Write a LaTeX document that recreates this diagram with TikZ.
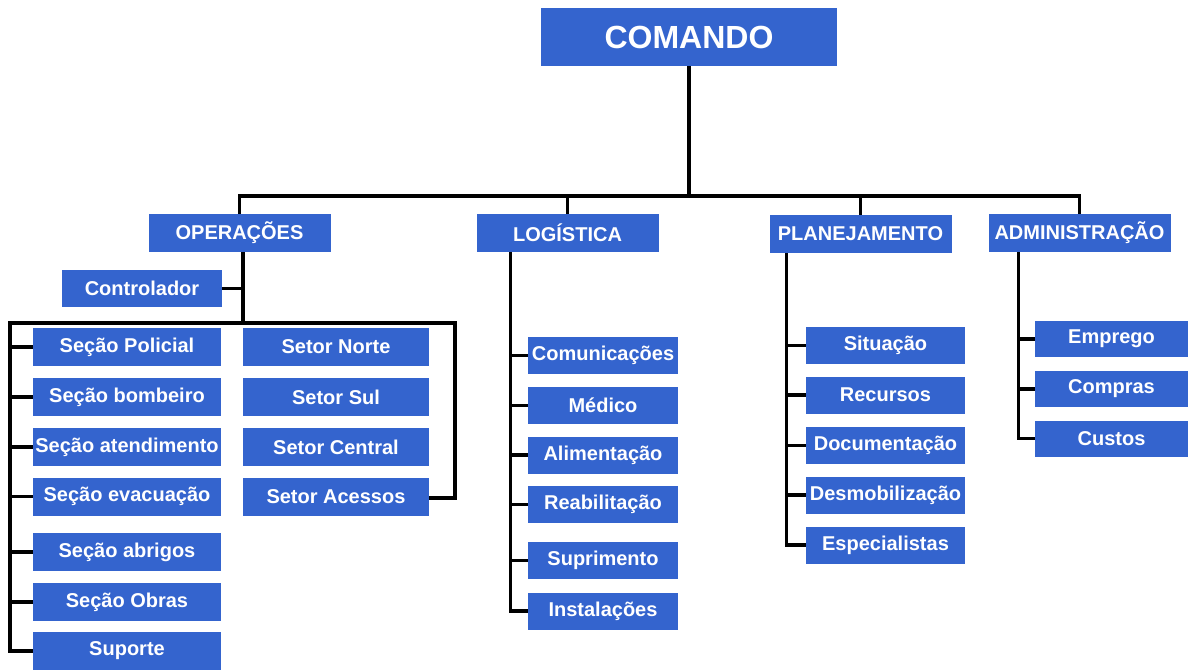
\documentclass[tikz,border=0pt]{standalone}
\usepackage{fontspec}
\setmainfont{Liberation Sans}
\usepackage{tikz}
\usetikzlibrary{positioning,calc}
\usepackage{xcolor}
\definecolor{BoxBlue}{RGB}{52,100,206}

\begin{document}
\begin{tikzpicture}[
    x=1pt, y=-1pt,
    unit/.style={fill=BoxBlue, text=white, inner sep=0pt, minimum height=38pt,
        font=\fontsize{20}{22}\selectfont\bfseries},
    chief/.style={unit, minimum width=296pt, minimum height=58pt,
        font=\fontsize{32}{35}\selectfont\bfseries},
    branch/.style={unit, minimum width=182pt},
    link/.style={draw, black, line width=3.2pt},
]
\useasboundingbox (0,0) rectangle (1188,669);

\node[chief] (cmd) at (689,37) {COMANDO};

\node[branch] (ops)  at (239.5,233) {OPERAÇÕES};
\node[branch] (log)  at (567.5,233) {LOGÍSTICA};
\node[branch] (plan) at (860.5,234) {PLANEJAMENTO};
\node[branch] (adm)  at (1079.5,233) {ADMINISTRAÇÃO};

\node[unit, minimum width=160pt, minimum height=37pt] (ctrl) at (142,288.5) {Controlador};

\node[unit, minimum width=188pt] (s1) at (127,347) {Seção Policial};
\node[unit, minimum width=188pt] (s2) at (127,397) {Seção bombeiro};
\node[unit, minimum width=188pt] (s3) at (127,447) {Seção atendimento};
\node[unit, minimum width=188pt] (s4) at (127,496.5) {Seção evacuação};
\node[unit, minimum width=188pt] (s5) at (127,552) {Seção abrigos};
\node[unit, minimum width=188pt] (s6) at (127,602) {Seção Obras};
\node[unit, minimum width=188pt] (s7) at (127,651) {Suporte};

\node[unit, minimum width=186pt] (t1) at (336,347) {Setor Norte};
\node[unit, minimum width=186pt] (t2) at (336,397) {Setor Sul};
\node[unit, minimum width=186pt] (t3) at (336,447) {Setor Central};
\node[unit, minimum width=186pt] (t4) at (336,496.5) {Setor Acessos};

\node[unit, minimum width=150pt, minimum height=37pt] (l1) at (603,355.5) {Comunicações};
\node[unit, minimum width=150pt, minimum height=37pt] (l2) at (603,405.5) {Médico};
\node[unit, minimum width=150pt, minimum height=37pt] (l3) at (603,455) {Alimentação};
\node[unit, minimum width=150pt, minimum height=37pt] (l4) at (603,504.5) {Reabilitação};
\node[unit, minimum width=150pt, minimum height=37pt] (l5) at (603,560.5) {Suprimento};
\node[unit, minimum width=150pt, minimum height=37pt] (l6) at (603,611) {Instalações};

\node[unit, minimum width=159pt, minimum height=37pt] (p1) at (885.5,345.5) {Situação};
\node[unit, minimum width=159pt, minimum height=37pt] (p2) at (885.5,395) {Recursos};
\node[unit, minimum width=159pt, minimum height=37pt] (p3) at (885.5,445.5) {Documentação};
\node[unit, minimum width=159pt, minimum height=37pt] (p4) at (885.5,495) {Desmobilização};
\node[unit, minimum width=159pt, minimum height=37pt] (p5) at (885.5,545) {Especialistas};

\node[unit, minimum width=153pt, minimum height=36pt] (a1) at (1111.5,339) {Emprego};
\node[unit, minimum width=153pt, minimum height=36pt] (a2) at (1111.5,389) {Compras};
\node[unit, minimum width=153pt, minimum height=36pt] (a3) at (1111.5,438.5) {Custos};

\coordinate (topbus) at (689,196);
\draw[link] (cmd.south) -- (topbus);
\draw[link] (ops.north) |- (topbus) -| (adm.north);
\draw[link] (log.north) -- (log.north |- topbus);
\draw[link] (plan.north) -- (plan.north |- topbus);

\coordinate (opsbus) at (243,323);
\coordinate (lrail) at (10,323);
\coordinate (rrail) at (455,323);
\draw[link] (ops.south -| opsbus) -- (opsbus);
\draw[link] (ctrl.east) -- (ctrl.east -| opsbus);
\draw[link] (s7.west) -| (lrail) -- (rrail) |- ($(t4.east)+(0,1.5)$);
\foreach \n in {s1,s2,s3,s4,s5,s6}
    \draw[link] (\n.west) -- (\n.west -| lrail);
\foreach \n/\dy in {t1/18,t2/15,t3/10}
    \draw[link] ($(\n.east)+(0,\dy)$) -- ($(\n.east)+(0,\dy)$ -| rrail);

\coordinate (lograil) at ($(log.south west)+(34,0)$);
\draw[link] (lograil) |- (l6.west);
\foreach \n in {l1,l2,l3,l4,l5}
    \draw[link] (\n.west) -- (\n.west -| lograil);

\coordinate (planrail) at ($(plan.south west)+(17,0)$);
\draw[link] (planrail) |- (p5.west);
\foreach \n in {p1,p2,p3,p4}
    \draw[link] (\n.west) -- (\n.west -| planrail);

\coordinate (admrail) at ($(adm.south west)+(30,0)$);
\draw[link] (admrail) |- (a3.west);
\foreach \n in {a1,a2}
    \draw[link] (\n.west) -- (\n.west -| admrail);
\end{tikzpicture}
\end{document}
